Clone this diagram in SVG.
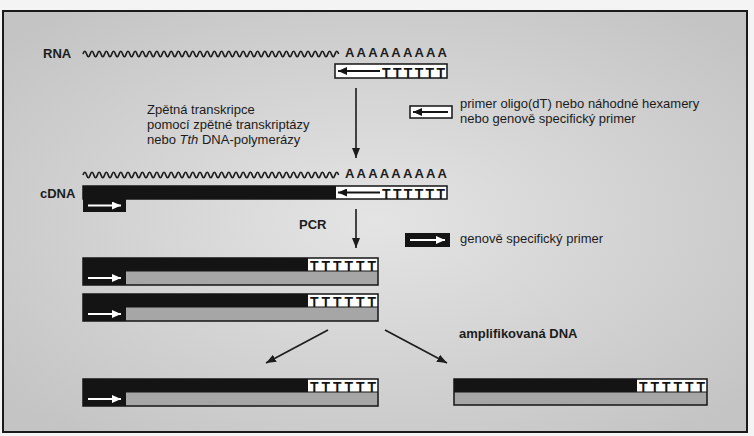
<svg xmlns="http://www.w3.org/2000/svg" xmlns:xlink="http://www.w3.org/1999/xlink" width="754" height="436" viewBox="0 0 754 436">
<style>
.t{font-family:"Liberation Sans",Arial,sans-serif;font-size:13px;fill:#1c1c1c}
.b{font-weight:bold}
.tt{font-family:"Liberation Sans",Arial,sans-serif;font-size:14px;font-weight:bold;fill:#141414}
.blk{fill:#141414}
.gry{fill:#a6a6a6}
.wht{fill:#ffffff}
.out{fill:none;stroke:#141414;stroke-width:1.5}
.sep{stroke:#141414;stroke-width:1.2}
.wave{fill:none;stroke:#1c1c1c;stroke-width:1.7}
.conn{fill:none;stroke:#1c1c1c;stroke-width:1.6;marker-end:url(#ah)}
.warr{stroke:#ffffff;stroke-width:1.8;marker-end:url(#wh)}
.barr{stroke:#141414;stroke-width:1.8;marker-end:url(#bh)}
</style>
<defs>
<radialGradient id="bg" cx="0.5" cy="0.5" r="0.65">
<stop offset="0" stop-color="#e4e4e4"/>
<stop offset="1" stop-color="#c4c4c4"/>
</radialGradient>
<marker id="ah" viewBox="0 0 10 8" markerWidth="10" markerHeight="8" refX="10" refY="4" orient="auto" markerUnits="userSpaceOnUse">
<path d="M0,0 L10,4 L0,8 z" fill="#1c1c1c"/>
</marker>
<marker id="wh" viewBox="0 0 9 8" markerWidth="9" markerHeight="8" refX="9" refY="4" orient="auto" markerUnits="userSpaceOnUse">
<path d="M0,0 L9,4 L0,8 z" fill="#ffffff"/>
</marker>
<marker id="bh" viewBox="0 0 9 8" markerWidth="9" markerHeight="8" refX="9" refY="4" orient="auto" markerUnits="userSpaceOnUse">
<path d="M0,0 L9,4 L0,8 z" fill="#141414"/>
</marker>
<path id="wavePath" class="wave" d="M83,0 q1.8,-5.5 3.6,0 t3.6,0 t3.6,0 t3.6,0 t3.6,0 t3.6,0 t3.6,0 t3.6,0 t3.6,0 t3.6,0 t3.6,0 t3.6,0 t3.6,0 t3.6,0 t3.6,0 t3.6,0 t3.6,0 t3.6,0 t3.6,0 t3.6,0 t3.6,0 t3.6,0 t3.6,0 t3.6,0 t3.6,0 t3.6,0 t3.6,0 t3.6,0 t3.6,0 t3.6,0 t3.6,0 t3.6,0 t3.6,0 t3.6,0 t3.6,0 t3.6,0 t3.6,0 t3.6,0 t3.6,0 t3.6,0 t3.6,0 t3.6,0 t3.6,0 t3.6,0 t3.6,0 t3.6,0 t3.6,0 t3.6,0 t3.6,0 t3.6,0 t3.6,0 t3.6,0 t3.6,0 t3.6,0 t3.6,0 t3.6,0 t3.6,0 t3.6,0 t3.6,0 t3.6,0 t3.6,0 t3.6,0 t3.6,0 t3.6,0 t3.6,0 t3.6,0 t3.6,0 t3.6,0 t3.6,0 t3.6,0 t3.6,0"/>
<g id="bar">
<rect x="83" y="0" width="295" height="13" class="blk"/>
<rect x="308" y="0" width="70" height="13" class="wht"/>
<text class="tt" x="310" y="12.5" textLength="66">TTTTTT</text>
<rect x="83" y="13" width="43" height="14" class="blk"/>
<rect x="126" y="13" width="252" height="14" class="gry"/>
<line x1="88" y1="20" x2="121" y2="20" class="warr"/>
<line x1="126" y1="13" x2="378" y2="13" class="sep"/>
<rect x="83" y="0" width="295" height="27" class="out"/>
</g>
</defs>

<rect x="0" y="0" width="754" height="436" fill="#f4f4f4"/>
<rect x="3" y="11" width="744" height="421" fill="url(#bg)" stroke="#1a1a1a" stroke-width="2"/>

<g id="rna">
<text class="t b" x="43" y="58">RNA</text>
<use xlink:href="#wavePath" href="#wavePath" y="54"/>
<text class="t b" x="345" y="57" textLength="102">AAAAAAAAA</text>
</g>

<g id="primer-rt">
<rect x="335" y="64" width="112" height="14" class="wht"/>
<line x1="380" y1="71" x2="338" y2="71" class="barr"/>
<text class="tt" x="382" y="77.5" textLength="63">TTTTTT</text>
<rect x="335" y="64" width="112" height="14" class="out"/>
</g>

<g id="rt-label">
<text class="t" x="147" y="114">Zpětná transkripce</text>
<text class="t" x="147" y="129">pomocí zpětné transkriptázy</text>
<text class="t" x="147" y="144">nebo <tspan font-style="italic">Tth</tspan> DNA-polymerázy</text>
</g>

<g id="legend-primer">
<rect x="410" y="106" width="42" height="12" class="wht"/>
<line x1="448" y1="112" x2="413" y2="112" class="barr"/>
<rect x="410" y="106" width="42" height="12" class="out"/>
<text class="t" x="460" y="108">primer oligo(dT) nebo náhodné hexamery</text>
<text class="t" x="460" y="123">nebo genově specifický primer</text>
</g>

<g id="cdna">
<use xlink:href="#wavePath" href="#wavePath" y="175"/>
<text class="t b" x="345" y="178" textLength="102">AAAAAAAAA</text>
<text class="t b" x="40" y="198">cDNA</text>
<rect x="83" y="186" width="364" height="13" class="blk"/>
<rect x="336" y="186" width="111" height="13" class="wht"/>
<line x1="380" y1="192.5" x2="338" y2="192.5" class="barr"/>
<text class="tt" x="382" y="198.5" textLength="63">TTTTTT</text>
<rect x="83" y="186" width="364" height="13" class="out"/>
<rect x="83" y="199" width="43" height="13" class="blk"/>
<line x1="88" y1="205.5" x2="121" y2="205.5" class="warr"/>
</g>

<g id="pcr-label">
<text class="t b" x="299" y="229">PCR</text>
</g>

<g id="legend-gsp">
<rect x="405" y="233" width="45" height="14" class="blk"/>
<line x1="410" y1="240" x2="445" y2="240" class="warr"/>
<text class="t" x="460" y="243">genově specifický primer</text>
</g>

<g id="pcr-product-1">
<use xlink:href="#bar" href="#bar" y="258"/>
</g>
<g id="pcr-product-2">
<use xlink:href="#bar" href="#bar" y="294"/>
</g>

<g id="amplified-label">
<text class="t b" x="459" y="338">amplifikovaná DNA</text>
</g>

<g id="amplified-left">
<use xlink:href="#bar" href="#bar" y="379"/>
</g>

<g id="amplified-right">
<rect x="454" y="379" width="253" height="13" class="blk"/>
<rect x="637" y="379" width="70" height="13" class="wht"/>
<text class="tt" x="639" y="391.5" textLength="66">TTTTTT</text>
<rect x="454" y="392" width="253" height="13" class="gry"/>
<line x1="454" y1="392" x2="707" y2="392" class="sep"/>
<rect x="454" y="379" width="253" height="26" class="out"/>
</g>

<g id="connectors">
<line x1="356" y1="88" x2="356" y2="158" class="conn"/>
<line x1="356" y1="209" x2="356" y2="248" class="conn"/>
<line x1="328" y1="330" x2="266" y2="363" class="conn"/>
<line x1="385" y1="330" x2="447" y2="363" class="conn"/>
</g>
</svg>
